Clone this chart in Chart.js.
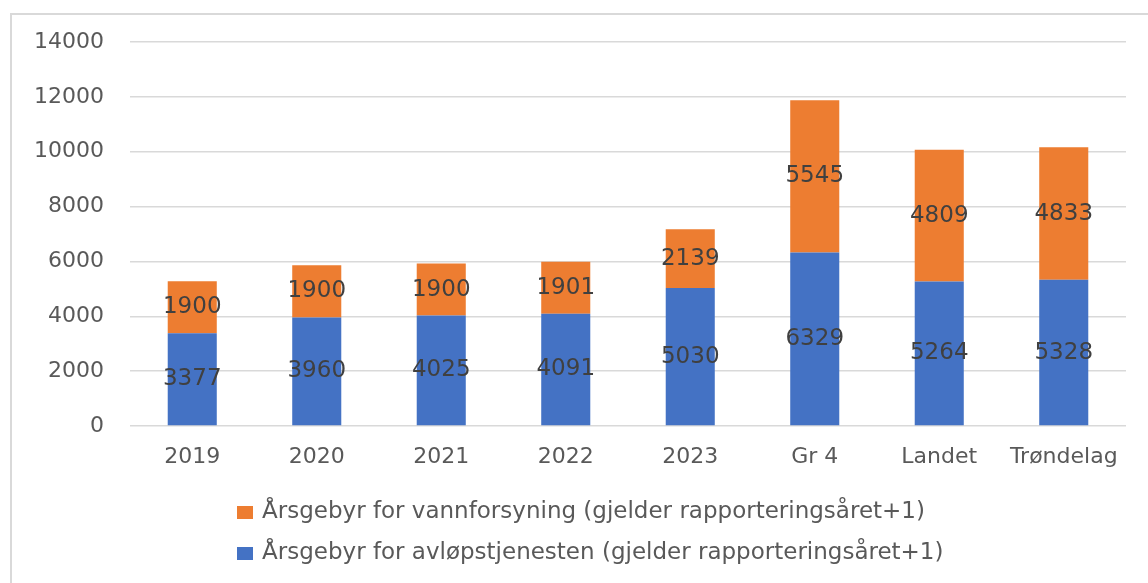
<!DOCTYPE html>
<html>
<head>
<meta charset="utf-8">
<script src="https://cdn.jsdelivr.net/npm/chart.js@4.4.1/dist/chart.umd.min.js"></script>
<style>
  html, body { margin: 0; padding: 0; background: #ffffff; }
  #wrap { position: relative; width: 1148px; height: 583px; }
</style>
</head>
<body>
<div id="wrap"><canvas id="c" width="1148" height="583"></canvas></div>
<script>
const categories = ['2019', '2020', '2021', '2022', '2023', 'Gr 4', 'Landet', 'Trøndelag'];
const avlopValues = [3377, 3960, 4025, 4091, 5030, 6329, 5264, 5328];
const vannValues = [1900, 1900, 1900, 1901, 2139, 5545, 4809, 4833];
const yTicks = [0, 2000, 4000, 6000, 8000, 10000, 12000, 14000];
const labelAvlop = 'Årsgebyr for avløpstjenesten (gjelder rapporteringsåret+1)';
const labelVann = 'Årsgebyr for vannforsyning (gjelder rapporteringsåret+1)';

const FONT = '"DejaVu Sans", sans-serif';

const framePlugin = {
  id: 'frame',
  beforeDraw(chart) {
    const ctx = chart.ctx;
    ctx.save();
    ctx.strokeStyle = '#d9d9d9';
    ctx.lineWidth = 2;
    ctx.beginPath();
    ctx.moveTo(11, 583);
    ctx.lineTo(11, 14);
    ctx.lineTo(1148, 14);
    ctx.stroke();
    ctx.restore();
  }
};

const valueLabels = {
  id: 'valueLabels',
  afterDatasetsDraw(chart) {
    const ctx = chart.ctx;
    ctx.save();
    ctx.font = '23px ' + FONT;
    ctx.fillStyle = '#404040';
    ctx.textAlign = 'center';
    ctx.textBaseline = 'middle';
    chart.data.datasets.forEach((ds, di) => {
      const meta = chart.getDatasetMeta(di);
      meta.data.forEach((el, i) => {
        const v = ds.data[i];
        const yc = (el.y + el.base) / 2;
        ctx.fillText(String(v), el.x, yc);
      });
    });
    ctx.restore();
  }
};

const customLegend = {
  id: 'customLegend',
  afterDraw(chart) {
    const ctx = chart.ctx;
    ctx.save();
    ctx.font = '23px ' + FONT;
    ctx.textBaseline = 'middle';
    ctx.textAlign = 'left';
    const order = [1, 0];
    const rowsY = [512, 553];
    order.forEach((di, r) => {
      const ds = chart.data.datasets[di];
      ctx.fillStyle = ds.backgroundColor;
      ctx.fillRect(237, rowsY[r] - 6, 16, 13);
      ctx.fillStyle = '#595959';
      ctx.fillText(ds.label, 262, rowsY[r]);
    });
    ctx.restore();
  }
};

new Chart(document.getElementById('c'), {
  type: 'bar',
  data: {
    labels: categories,
    datasets: [
      { label: labelAvlop, data: avlopValues, backgroundColor: '#4472C4', stack: 's' },
      { label: labelVann, data: vannValues, backgroundColor: '#ED7D31', stack: 's' }
    ]
  },
  options: {
    responsive: false,
    animation: false,
    devicePixelRatio: 1,
    layout: { padding: { left: 0, top: 42, right: 22, bottom: 0 } },
    datasets: { bar: { categoryPercentage: 1.0, barPercentage: 0.394 } },
    plugins: {
      legend: { display: false },
      tooltip: { enabled: false }
    },
    scales: {
      x: {
        stacked: true,
        grid: { display: false, drawTicks: false },
        border: { display: false },
        ticks: { color: '#595959', font: { family: FONT, size: 22 }, padding: 18, maxRotation: 0 },
        afterFit(scale) { scale.height = 157; }
      },
      y: {
        stacked: true,
        min: 0,
        max: 14000,
        afterBuildTicks(scale) { scale.ticks = yTicks.map(v => ({ value: v })); },
        grid: { color: '#d9d9d9', lineWidth: 1.5, drawTicks: false },
        border: { display: false },
        ticks: {
          color: '#595959',
          font: { family: FONT, size: 22 },
          padding: 26,
          callback: (v) => String(v)
        },
        afterFit(scale) { scale.width = 130; }
      }
    }
  },
  plugins: [framePlugin, valueLabels, customLegend]
});
</script>
</body>
</html>
